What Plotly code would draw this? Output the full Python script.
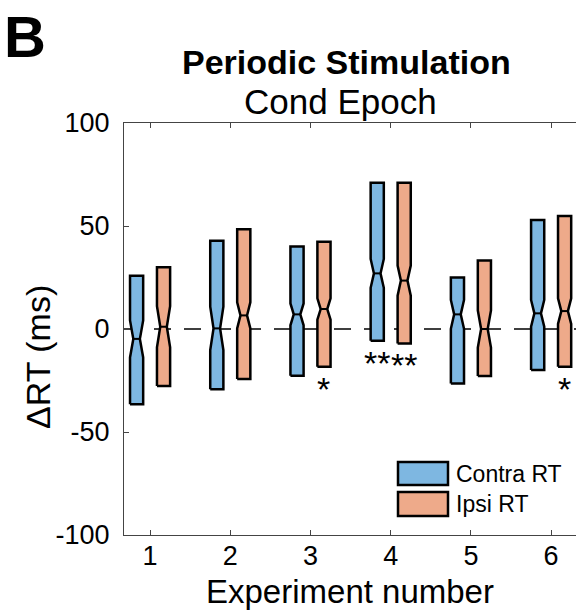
import plotly.graph_objects as go

experiments = [1, 2, 3, 4, 5, 6]
tick_labels = ["1", "2", "3", "4", "5", "6"]
y_ticks = [-100, -50, 0, 50, 100]
y_tick_labels = ["-100", "-50", "0", "50", "100"]

contra_q1 = [-36.5, -29.3, -22.7, -5.7, -26.4, -19.9]
contra_med = [-4.8, 0.3, 7.1, 27.0, 7.1, 7.6]
contra_q3 = [25.8, 42.9, 40.0, 71.0, 25.0, 52.9]
contra_notch = [9.0, 10.5, 5.3, 7.0, 7.0, 6.5]
contra_sig = ["", "", "", "**", "", ""]

ipsi_q1 = [-27.7, -24.3, -18.3, -7.0, -22.8, -18.3]
ipsi_med = [1.1, 6.6, 9.7, 23.5, 0.0, 8.7]
ipsi_q3 = [30.0, 48.4, 42.4, 71.0, 33.2, 54.9]
ipsi_notch = [10.0, 6.3, 5.2, 7.3, 9.0, 6.2]
ipsi_sig = ["", "", "*", "**", "", "*"]

BLUE = "rgb(126,183,225)"
ORANGE = "rgb(238,170,138)"
AX = "#444444"
FONT = "Liberation Sans, Arial, sans-serif"

# style constants (box geometry in x-axis units)
GROUP_OFFSET = 0.168
HALF_W = 0.082
NOTCH_FRAC = 0.5

W, H = 576, 610
L, R, T, B = 124, 576, 123, 535


def px(xp):
    return (xp - L) / (R - L)


def py(yp):
    return (B - yp) / (B - T)


def notched_boxes(q1s, meds, q3s, nss, offset):
    xs, ys, mx, my = [], [], [], []
    for e, q1, md, q3, ns in zip(experiments, q1s, meds, q3s, nss):
        c = e + offset
        a, b = c - HALF_W, c + HALF_W
        na, nb = c - HALF_W * NOTCH_FRAC, c + HALF_W * NOTCH_FRAC
        xs += [a, b, b, nb, b, b, a, a, na, a, a, None]
        ys += [q1, q1, md - ns, md, md + ns, q3, q3, md + ns, md, md - ns, q1, None]
        mx += [na, nb, None]
        my += [md, md, None]
    return xs, ys, mx, my


fig = go.Figure()
for name, q1, med, q3, ns, col, off in [
    ("Contra RT", contra_q1, contra_med, contra_q3, contra_notch, BLUE, -GROUP_OFFSET),
    ("Ipsi RT", ipsi_q1, ipsi_med, ipsi_q3, ipsi_notch, ORANGE, GROUP_OFFSET),
]:
    xs, ys, mx, my = notched_boxes(q1, med, q3, ns, off)
    fig.add_trace(go.Scatter(x=xs, y=ys, mode="lines", fill="toself", fillcolor=col,
                             line=dict(color="black", width=2.5), name=name,
                             hoverinfo="skip", showlegend=False))
    fig.add_trace(go.Scatter(x=mx, y=my, mode="lines", line=dict(color="black", width=2),
                             hoverinfo="skip", showlegend=False))

# significance stars
for sig, q1, off in [(contra_sig, contra_q1, -GROUP_OFFSET), (ipsi_sig, ipsi_q1, GROUP_OFFSET)]:
    for e, s, q in zip(experiments, sig, q1):
        if s:
            fig.add_annotation(x=e + off, y=q, xref="x", yref="y", text=s,
                               showarrow=False, yshift=-1,
                               yanchor="top", xanchor="center",
                               font=dict(family=FONT, size=34, color="black"))

fig.add_shape(type="line", xref="paper", yref="y", x0=0, x1=1, y0=0, y1=0,
              layer="below", line=dict(color="black", width=1.3, dash="17px,13px"))

# legend (manual)
for (name, col, y0, y1) in [("Contra RT", BLUE, 462, 485), ("Ipsi RT", ORANGE, 492, 516)]:
    fig.add_shape(type="rect", xref="paper", yref="paper", x0=px(398), x1=px(448),
                  y0=py(y1), y1=py(y0), fillcolor=col, line=dict(color="black", width=2.5))
    fig.add_annotation(xref="paper", yref="paper", x=px(454), y=py((y0 + y1) / 2),
                       text=name, showarrow=False, xanchor="left", yanchor="middle",
                       font=dict(family=FONT, size=23, color="black"))

# titles
fig.add_annotation(xref="paper", yref="paper", x=px(346), y=py(62), text="<b>Periodic Stimulation</b>",
                   showarrow=False, xanchor="center", yanchor="middle",
                   font=dict(family=FONT, size=34, color="black"))
fig.add_annotation(xref="paper", yref="paper", x=px(340), y=py(101), text="Cond Epoch",
                   showarrow=False, xanchor="center", yanchor="middle",
                   font=dict(family=FONT, size=35, color="black"))
fig.add_annotation(xref="paper", yref="paper", x=px(25), y=py(36), text="<b>B</b>",
                   showarrow=False, xanchor="center", yanchor="middle",
                   font=dict(family=FONT, size=58, color="black"))
fig.add_annotation(xref="paper", yref="paper", x=px(38), y=py(357), text="ΔRT (ms)",
                   showarrow=False, xanchor="center", yanchor="middle", textangle=-90,
                   font=dict(family=FONT, size=34, color="black"))
fig.add_annotation(xref="paper", yref="paper", x=px(350), y=py(591), text="Experiment number",
                   showarrow=False, xanchor="center", yanchor="middle",
                   font=dict(family=FONT, size=33, color="black"))

fig.update_layout(
    width=W, height=H, autosize=False,
    margin=dict(l=L, r=W - R, t=T, b=H - B, pad=0),
    paper_bgcolor="white", plot_bgcolor="white",
    showlegend=False,
    xaxis=dict(range=[0.675, 6.31], tickvals=experiments, ticktext=tick_labels,
               ticks="inside", ticklen=5, tickcolor=AX, showline=True, linecolor=AX,
               linewidth=1, mirror="ticks", showgrid=False, zeroline=False,
               tickfont=dict(family=FONT, size=27, color="black"), ticklabelstandoff=-3),
    yaxis=dict(range=[-100, 100], tickvals=y_ticks, ticktext=y_tick_labels,
               ticks="inside", ticklen=5, tickcolor=AX, showline=True, linecolor=AX,
               linewidth=1, mirror=False, showgrid=False, zeroline=False,
               tickfont=dict(family=FONT, size=27, color="black"), ticklabelstandoff=8),
    yaxis2=dict(overlaying="y", side="right", range=[-3, 3], dtick=1, ticks="inside",
                ticklen=5, tickcolor=AX, showticklabels=False, showline=False,
                showgrid=False, zeroline=False),
)

fig.write_html("out.html")
